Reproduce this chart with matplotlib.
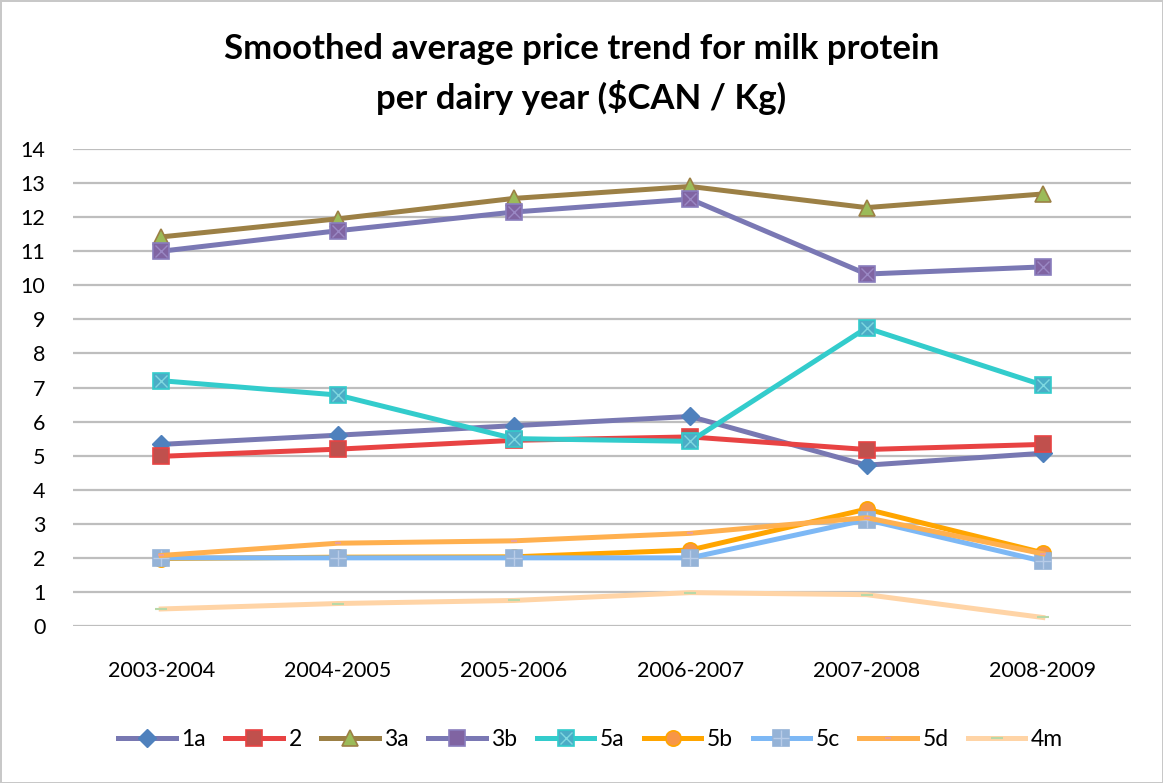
import matplotlib
matplotlib.use("Agg")
import matplotlib.pyplot as plt
from matplotlib.legend_handler import HandlerTuple

years = ['2003-2004', '2004-2005', '2005-2006', '2006-2007', '2007-2008', '2008-2009']
s1a = [5.33, 5.60, 5.88, 6.15, 4.72, 5.07]
s2 = [4.98, 5.19, 5.45, 5.55, 5.18, 5.33]
s3a = [11.42, 11.95, 12.55, 12.90, 12.28, 12.68]
s3b = [11.00, 11.60, 12.15, 12.53, 10.33, 10.54]
s5a = [7.20, 6.78, 5.50, 5.42, 8.75, 7.07]
s5b = [1.98, 2.02, 2.03, 2.23, 3.43, 2.15]
s5c = [2.00, 2.00, 2.00, 2.00, 3.12, 1.90]
s5d = [2.07, 2.43, 2.50, 2.72, 3.18, 2.12]
s4m = [0.50, 0.66, 0.75, 0.98, 0.92, 0.25]
labels = ['1a', '2', '3a', '3b', '5a', '5b', '5c', '5d', '4m']
yticks = list(range(0, 15))

plt.rcParams['font.family'] = ['Lato', 'DejaVu Sans']

fig = plt.figure(figsize=(11.63, 7.83), dpi=100)
fig.patch.set_facecolor('white')
fig.patch.set_edgecolor('#C8C8C8')
fig.patch.set_linewidth(2)
ax = fig.add_axes([0.0628, 0.2005, 0.9097, 0.6092])

x = list(range(len(years)))
lw = 3.6
styles = [
    (s1a, dict(color='#7878B2', marker='D', ms=9, mfc='#4F81BD', mec='#4F81BD')),
    (s2, dict(color='#E84343', marker='s', ms=11, mfc='#C0504D', mec='#E84343', mew=1.2)),
    (s3a, dict(color='#9C8045', marker='^', ms=11, mfc='#9BBB59', mec='#9C8045', mew=1.2)),
    (s3b, dict(color='#7A78B4', marker='s', ms=12, mfc='#8064A2', mec='#8A7EBE', mew=1.2)),
    (s5a, dict(color='#33CCCC', marker='s', ms=11, mfc='#4BACC6', mec='#33CCCC', mew=1.2)),
    (s5b, dict(color='#FFA500', marker='o', ms=11, mfc='#F79646', mec='#FFA500', mew=1.2)),
    (s5c, dict(color='#7DB8F5', marker='s', ms=11, mfc='#95B3D7', mec='#95B3D7', mew=1.2)),
    (s5d, dict(color='#FFB04F', marker='_', ms=5, mfc='#E8A0A0', mec='#E8A0A0', mew=1.5)),
    (s4m, dict(color='#FFD4A6', marker='_', ms=8, mfc='#B8D8A8', mec='#B8D8A8', mew=1.5)),
]
handles = []
for (vals, st), lab in zip(styles, labels):
    ln, = ax.plot(x, vals, lw=lw, label=lab, solid_joinstyle='round', **st)
    h = ln
    if lab in ('5a', '3b'):
        ov, = ax.plot(x, vals, ls='none', marker='x', ms=9,
                      mec='#7FD8E0' if lab == '5a' else '#9A88C4', mew=1.0)
        h = (ln, ov) if lab == '5a' else ln
    elif lab == '5c':
        ov, = ax.plot(x, vals, ls='none', marker='+', ms=11, mec='#B8CCE8', mew=1.0)
        h = (ln, ov)
    handles.append(h)

ax.set_xlim(-0.5, len(years) - 0.5)
ax.set_ylim(0, 14)
ax.set_yticks(yticks)
ax.set_xticks(x)
ax.set_xticklabels(years)
ax.yaxis.grid(True, color='#BEBEBE', lw=1.6)
ax.set_axisbelow(True)
for sp in ax.spines.values():
    sp.set_visible(False)
ax.tick_params(axis='both', length=0, labelsize=15.5, colors='black')
ax.tick_params(axis='x', pad=25)
ax.tick_params(axis='y', pad=20)

fig.text(0.5, 0.938, 'Smoothed average price trend for milk protein', ha='center',
         va='center', fontsize=25, fontweight='bold')
fig.text(0.5, 0.876, 'per dairy year ($CAN / Kg)', ha='center', va='center',
         fontsize=25, fontweight='bold')

fig.legend(handles, labels, loc='center', bbox_to_anchor=(0.508, 0.056), ncol=9,
           frameon=False, fontsize=16.5, handlelength=2.5, handletextpad=0.25,
           columnspacing=0.85, handler_map={tuple: HandlerTuple(ndivide=1)})

fig.savefig('out.png', dpi=100, facecolor=fig.get_facecolor(), edgecolor=fig.get_edgecolor())
